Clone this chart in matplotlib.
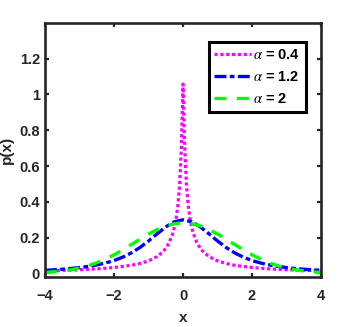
import numpy as np
import matplotlib
matplotlib.use("Agg")
import matplotlib.pyplot as plt

plt.rcParams['font.family'] = ['Liberation Sans', 'DejaVu Sans']
plt.rcParams['mathtext.fontset'] = 'stix'
plt.rcParams['lines.scale_dashes'] = False

# right half (x >= 0) of each symmetric density
x_a04 = [0.0, 0.05, 0.1, 0.15, 0.2, 0.25, 0.3, 0.4, 0.5, 0.6, 0.75, 1.0, 1.25, 1.5, 2.0, 2.5, 3.0, 3.5, 4.0]
p_a04 = [1.058, 0.6966, 0.4924, 0.3793, 0.3076, 0.2581, 0.2219, 0.1724, 0.1402, 0.1177, 0.0942, 0.0700,
         0.0552, 0.0452, 0.0327, 0.0253, 0.0205, 0.0171, 0.0145]

x_grid = [0.0, 0.25, 0.5, 0.75, 1.0, 1.25, 1.5, 1.75, 2.0, 2.25, 2.5, 2.75, 3.0, 3.25, 3.5, 3.75, 4.0]
p_a12 = [0.2994, 0.2887, 0.2600, 0.2213, 0.1810, 0.1445, 0.1143, 0.0903, 0.0718, 0.0580, 0.0474,
         0.0390, 0.0324, 0.0273, 0.0232, 0.0199, 0.0173]
p_a2 = [0.2821, 0.2777, 0.2650, 0.2451, 0.2197, 0.1909, 0.1607, 0.1312, 0.1038, 0.0796, 0.0591,
        0.0426, 0.0297, 0.0201, 0.0132, 0.0084, 0.0052]

labels = [r'$\alpha$ = 0.4', r'$\alpha$ = 1.2', r'$\alpha$ = 2']
x_ticks = [-4, -2, 0, 2, 4]
y_ticks = [0, 0.2, 0.4, 0.6, 0.8, 1.0, 1.2]
y_ticklabels = ['0', '0.2', '0.4', '0.6', '0.8', '1', '1.2']


def mirror(x, y):
    x = np.asarray(x)
    y = np.asarray(y)
    return np.concatenate([-x[:0:-1], x]), np.concatenate([y[:0:-1], y])


fig = plt.figure(figsize=(3.54, 3.27), dpi=100)
ax = fig.add_axes([0.127, 0.153, 0.780, 0.777])

xa, ya = mirror(x_a04, p_a04)
xb, yb = mirror(x_grid, p_a12)
xc, yc = mirror(x_grid, p_a2)

ax.plot(xa, ya, color=(1, 0, 1), lw=2.3, linestyle=(0, (2.3, 1.9)), label=labels[0])
ax.plot(xb, yb, color=(0, 0, 1), lw=2.4, linestyle=(0, (8.6, 2.4, 3.4, 2.4)), label=labels[1])
ax.plot(xc, yc, color=(0, 1, 0), lw=2.4, linestyle=(0, (8.6, 7.5)), label=labels[2])

ax.set_xlim(-4, 4)
ax.set_ylim(-0.02, 1.4)
ax.set_xticks(x_ticks)
ax.set_yticks(y_ticks)
ax.set_yticklabels(y_ticklabels)

axc = '#262626'
for s in ax.spines.values():
    s.set_linewidth(1.9)
    s.set_color(axc)
ax.tick_params(direction='in', top=True, right=True, length=2.6, width=1.6,
               color=axc, labelsize=10.5, labelcolor=axc)
ax.tick_params(axis='x', pad=8.5)
ax.tick_params(axis='y', pad=3.5)
for t in ax.get_xticklabels() + ax.get_yticklabels():
    t.set_fontweight('bold')

ax.set_xlabel('x', fontsize=11, fontweight='bold', color=axc, labelpad=6)
ax.set_ylabel('p(x)', fontsize=11, fontweight='bold', color=axc, labelpad=4)

leg = ax.legend(loc='upper right', bbox_to_anchor=(0.945, 0.925), fancybox=False,
                edgecolor='black', framealpha=1, handlelength=2.5, handletextpad=0.15,
                labelspacing=0.55, borderpad=0.4, borderaxespad=0,
                prop={'weight': 'bold', 'size': 10.5})
leg.get_frame().set_linewidth(2.2)

fig.savefig('out.png', dpi=100)
